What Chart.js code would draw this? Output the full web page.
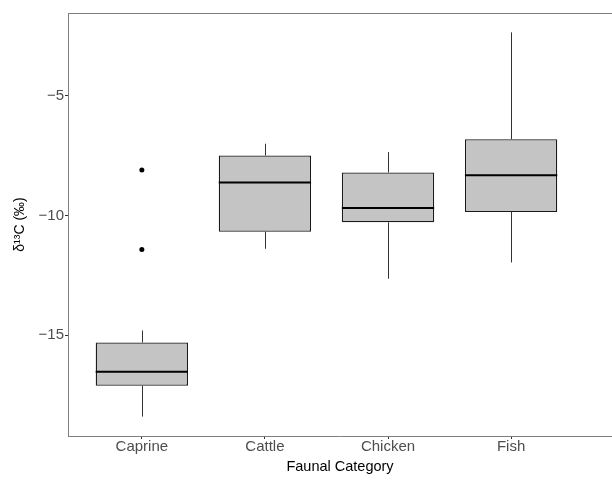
<!DOCTYPE html>
<html>
<head>
<meta charset="utf-8">
<script src="https://cdn.jsdelivr.net/npm/chart.js@4/dist/chart.umd.min.js"></script>
<style>
    body { margin: 0; background: #fff; }
    canvas { display: block; }
</style>
</head>
<body>
<canvas id="box-chart" width="612" height="485"></canvas>
<script>
// Values (per-mille)
const categories = ['Caprine', 'Cattle', 'Chicken', 'Fish'];
const whiskerLow = [-18.40, -11.39, -12.64, -11.96];
const q1 = [-17.11, -10.68, -10.28, -9.85];
const median = [-16.53, -8.62, -9.69, -8.32];
const q3 = [-15.30, -7.49, -8.20, -6.81];
const whiskerHigh = [-14.80, -7.00, -7.35, -2.35];
const outlierCategory = ['Caprine', 'Caprine'];
const outlierValues = [-8.10, -11.42];
const yTicks = [-15, -10, -5];

const AXIS_GREY = '#7f7f7f';
const TEXT_GREY = '#4d4d4d';
const FONT = 'Liberation Sans, Arial, sans-serif';

const catPos = name => categories.indexOf(name) + 1;

// whiskers under the boxes, medians on top, plus the top panel edge
const boxExtras = {
    id: 'boxExtras',
    beforeDatasetsDraw(chart) {
        const { ctx, scales: { x, y } } = chart;
        ctx.save();
        ctx.strokeStyle = '#333333';
        ctx.lineWidth = 1;
        categories.forEach((c, i) => {
            const px = Math.round(x.getPixelForValue(i + 1)) + 0.5;
            ctx.beginPath();
            ctx.moveTo(px, y.getPixelForValue(whiskerHigh[i]));
            ctx.lineTo(px, y.getPixelForValue(q3[i]));
            ctx.moveTo(px, y.getPixelForValue(q1[i]));
            ctx.lineTo(px, y.getPixelForValue(whiskerLow[i]));
            ctx.stroke();
        });
        ctx.restore();
    },
    afterDatasetsDraw(chart) {
        const { ctx, chartArea, scales: { x, y } } = chart;
        const bars = chart.getDatasetMeta(0).data;
        ctx.save();
        ctx.strokeStyle = '#000000';
        ctx.lineWidth = 2;
        categories.forEach((c, i) => {
            const px = x.getPixelForValue(i + 1);
            const half = bars[i].width / 2;
            const py = y.getPixelForValue(median[i]);
            ctx.beginPath();
            ctx.moveTo(px - half, py);
            ctx.lineTo(px + half, py);
            ctx.stroke();
        });
        ctx.strokeStyle = AXIS_GREY;
        ctx.lineWidth = 1;
        ctx.beginPath();
        ctx.moveTo(chartArea.left, chartArea.top + 0.5);
        ctx.lineTo(chart.width, chartArea.top + 0.5);
        ctx.stroke();
        ctx.restore();
    }
};

new Chart(document.getElementById('box-chart'), {
    type: 'bar',
    data: {
        datasets: [{
            label: 'IQR',
            data: categories.map((c, i) => ({ x: i + 1, y: [q1[i], q3[i]] })),
            backgroundColor: '#c3c4c3',
            borderColor: '#1a1a1a',
            borderWidth: 1.3,
            borderSkipped: false,
            barPercentage: 0.75,
            categoryPercentage: 1
        }, {
            type: 'scatter',
            label: 'Outliers',
            data: outlierValues.map((v, i) => ({ x: catPos(outlierCategory[i]), y: v })),
            backgroundColor: '#000000',
            borderColor: '#000000',
            pointRadius: 2.5,
            borderWidth: 0
        }]
    },
    options: {
        responsive: false,
        animation: false,
        layout: { autoPadding: false, padding: { top: 13, left: 0, right: 0, bottom: 0 } },
        plugins: {
            legend: { display: false },
            tooltip: { enabled: false }
        },
        scales: {
            x: {
                type: 'linear',
                min: 0.4,
                max: 4.82,
                offset: false,
                afterBuildTicks: scale => {
                    scale.ticks = categories.map((c, i) => ({ value: i + 1 }));
                },
                afterFit: scale => { scale.height = 49; },
                grid: {
                    offset: false,
                    drawOnChartArea: false,
                    drawTicks: true,
                    tickLength: 3,
                    tickColor: '#333333'
                },
                border: { display: true, color: AXIS_GREY, width: 1 },
                ticks: {
                    padding: 0,
                    color: TEXT_GREY,
                    font: { family: FONT, size: 15, lineHeight: 1 },
                    maxRotation: 0,
                    callback: value => categories[value - 1] || ''
                },
                title: {
                    display: true,
                    text: 'Faunal Category',
                    color: '#000000',
                    font: { family: FONT, size: 14.5 },
                    padding: { top: 0, bottom: 9 }
                }
            },
            y: {
                min: -19.21,
                max: -1.54,
                afterBuildTicks: scale => {
                    scale.ticks = yTicks.map(v => ({ value: v }));
                },
                afterFit: scale => { scale.width = 68; },
                grid: {
                    drawOnChartArea: false,
                    drawTicks: true,
                    tickLength: 3,
                    tickColor: '#333333'
                },
                border: { display: true, color: AXIS_GREY, width: 1 },
                ticks: {
                    padding: 1,
                    color: TEXT_GREY,
                    font: { family: FONT, size: 15 },
                    callback: value => (value < 0 ? '\u2212' + Math.abs(value) : String(value))
                },
                title: {
                    display: true,
                    text: 'δ¹³C (‰)',
                    color: '#000000',
                    font: { family: FONT, size: 14 },
                    padding: { top: 12, bottom: 0 }
                }
            }
        }
    },
    plugins: [boxExtras]
});
</script>
</body>
</html>
